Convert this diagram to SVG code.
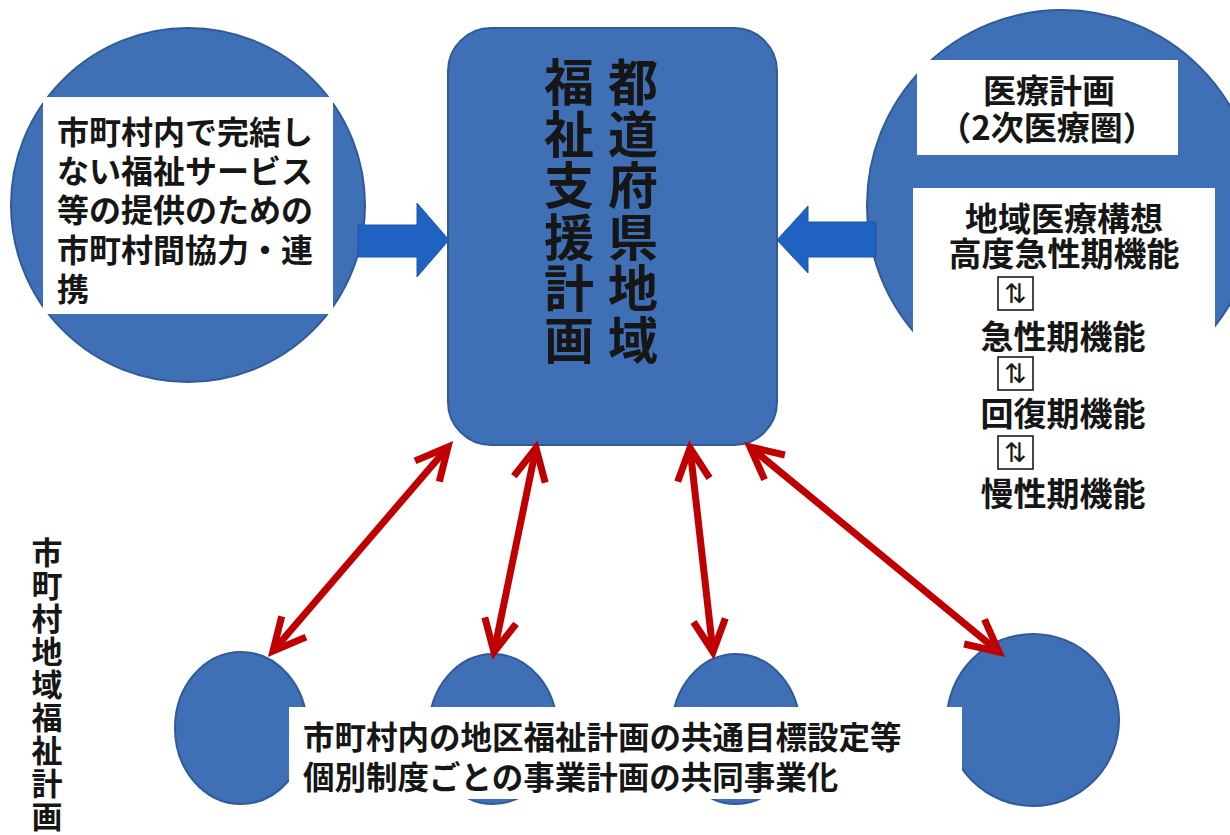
<svg xmlns="http://www.w3.org/2000/svg" width="1230" height="835" viewBox="0 0 1230 835">
<defs>
<style>
.blue{fill:#3f6fb5;stroke:#2f5a9c;stroke-width:2}
.wbox{fill:#ffffff}
.t{font-family:"Noto Sans CJK JP","Noto Sans CJK SC",sans-serif;fill:#161616;font-weight:bold}
.l32{font-size:32px}
.r33{font-size:33px;text-anchor:middle}
.b31{font-size:31.5px}
.vert{writing-mode:vertical-rl}
.barrow{fill:#1f62c2;stroke:#1a56ab;stroke-width:1}
.red{fill:none;stroke:#c00000;stroke-width:7;marker-start:url(#ah);marker-end:url(#ah)}
.symbox{fill:#ffffff;stroke:#1a1a1a;stroke-width:1.6}
.sym{font-family:"DejaVu Sans",sans-serif;font-size:27px;text-anchor:middle;fill:#1a1a1a}
</style>
<marker id="ah" markerUnits="userSpaceOnUse" orient="auto-start-reverse" viewBox="-40 -24 48 48" markerWidth="48" markerHeight="48" refX="0" refY="0" overflow="visible">
<path d="M-32,-16 L0,0 L-32,16" fill="none" stroke="#c00000" stroke-width="7" stroke-linejoin="miter"/>
</marker>
</defs>
<rect width="1230" height="835" fill="#ffffff"/>

<g id="node-left">
<circle class="blue" cx="188" cy="205" r="177"/>
<rect class="wbox" x="43" y="97" width="290" height="217"/>
<text class="t l32" x="57" y="144">市町村内で完結し</text>
<text class="t l32" x="57" y="183">ない福祉サービス</text>
<text class="t l32" x="57" y="222">等の提供のための</text>
<text class="t l32" x="57" y="262">市町村間協力・連</text>
<text class="t l32" x="57" y="301">携</text>
</g>

<g id="node-center">
<rect class="blue" x="448" y="28" width="329" height="417" rx="43" ry="43"/>
<text class="t vert" x="633" y="57" style="font-size:50px;letter-spacing:1.5px">都道府県地域</text>
<text class="t vert" x="569" y="57" style="font-size:50px;letter-spacing:1.5px">福祉支援計画</text>
</g>

<g id="node-right">
<circle class="blue" cx="1062" cy="205" r="195"/>
<rect class="wbox" x="917" y="60" width="261" height="95"/>
<rect class="wbox" x="913" y="188" width="302" height="340"/>
<text class="t r33" x="1049" y="103">医療計画</text>
<text class="t r33" x="1047" y="140">（2次医療圏）</text>
<text class="t r33" x="1064" y="231">地域医療構想</text>
<text class="t r33" x="1064" y="266">高度急性期機能</text>
<rect class="symbox" x="998" y="277" width="35" height="33"/>
<text class="sym" x="1015.5" y="303">⇅</text>
<text class="t r33" x="1063" y="349">急性期機能</text>
<rect class="symbox" x="998" y="357" width="35" height="33"/>
<text class="sym" x="1015.5" y="383">⇅</text>
<text class="t r33" x="1063" y="426">回復期機能</text>
<rect class="symbox" x="998" y="436" width="35" height="33"/>
<text class="sym" x="1015.5" y="462">⇅</text>
<text class="t r33" x="1063" y="506">慢性期機能</text>
</g>

<g id="node-m1"><ellipse class="blue" cx="241" cy="728" rx="66" ry="76"/></g>
<g id="node-m2"><ellipse class="blue" cx="493" cy="729" rx="64" ry="75"/></g>
<g id="node-m3"><ellipse class="blue" cx="736" cy="729" rx="64" ry="75"/></g>
<g id="node-m4"><circle class="blue" cx="1033" cy="720" r="86"/></g>

<g id="node-bottom-label">
<rect class="wbox" x="289" y="707" width="673" height="92"/>
<text class="t b31" x="303" y="749">市町村内の地区福祉計画の共通目標設定等</text>
<text class="t b31" x="303" y="789">個別制度ごとの事業計画の共同事業化</text>
</g>

<g id="node-side-label">
<text class="t vert" x="47" y="537" style="font-size:31px;letter-spacing:2px">市町村地域福祉計画</text>
</g>

<g id="connectors">
<polygon class="barrow" points="358,225 417,225 417,203 449,240 417,277 417,257 358,257"/>
<polygon class="barrow" points="876,222 808,222 808,206 777,240 808,273 808,257 876,257"/>
<line class="red" x1="448" y1="447" x2="273" y2="651"/>
<line class="red" x1="536" y1="448" x2="494" y2="652"/>
<line class="red" x1="690" y1="448" x2="713" y2="652"/>
<line class="red" x1="750" y1="447" x2="999" y2="652"/>
</g>
</svg>
